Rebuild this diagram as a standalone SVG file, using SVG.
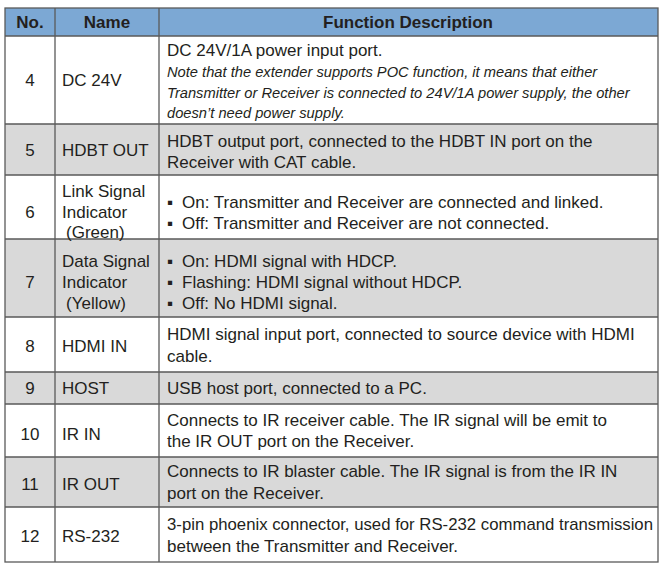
<svg xmlns="http://www.w3.org/2000/svg" width="666" height="576" viewBox="0 0 666 576">
<style>
text{font-family:"Liberation Sans",Arial,sans-serif;fill:#231f20;font-size:17px}
.h{font-weight:bold;text-anchor:middle}
.c{text-anchor:middle}
.i{font-style:italic;font-size:14.7px}
.ln{stroke:#5a5a5a;stroke-width:1.3;fill:none}
.g{fill:#d9d9d9}
</style>
<rect x="0" y="0" width="666" height="576" fill="#ffffff"/>
<g id="backgrounds">
<rect x="5" y="8" width="653" height="28" fill="#7ca8d4"/>
<rect class="g" x="5" y="124" width="653" height="51"/>
<rect class="g" x="5" y="239" width="653" height="78"/>
<rect class="g" x="5" y="372" width="653" height="32"/>
<rect class="g" x="5" y="457" width="653" height="50"/>
</g>
<g id="grid">
<rect class="ln" x="5" y="8" width="653" height="554"/>
<path class="ln" d="M55 8V562M159 8V562M5 36H658M5 124H658M5 175H658M5 239H658M5 317H658M5 372H658M5 404H658M5 457H658M5 507H658"/>
</g>
<g id="header">
<text class="h" x="30" y="28">No.</text>
<text class="h" x="107" y="28">Name</text>
<text class="h" x="408" y="28">Function Description</text>
</g>
<g id="row4">
<text class="c" x="30" y="86">4</text>
<text x="62" y="86">DC 24V</text>
<text x="167" y="56">DC 24V/1A power input port.</text>
<text class="i" x="167" y="77">Note that the extender supports POC function, it means that either</text>
<text class="i" x="167" y="98">Transmitter or Receiver is connected to 24V/1A power supply, the other</text>
<text class="i" x="167" y="118">doesn’t need power supply.</text>
</g>
<g id="row5">
<text class="c" x="30" y="156">5</text>
<text x="62" y="156">HDBT OUT</text>
<text x="167" y="147">HDBT output port, connected to the HDBT IN port on the</text>
<text x="167" y="168">Receiver with CAT cable.</text>
</g>
<g id="row6">
<text class="c" x="30" y="218">6</text>
<text x="62" y="197">Link Signal</text>
<text x="62" y="218">Indicator</text>
<text x="66" y="238">(Green)</text>
<text x="167" y="208"><tspan x="167">▪</tspan><tspan x="182">On: Transmitter and Receiver are connected and linked.</tspan></text>
<text x="167" y="229"><tspan x="167">▪</tspan><tspan x="182">Off: Transmitter and Receiver are not connected.</tspan></text>
</g>
<g id="row7">
<text class="c" x="30" y="288">7</text>
<text x="62" y="267">Data Signal</text>
<text x="62" y="288">Indicator</text>
<text x="66" y="309">(Yellow)</text>
<text x="167" y="267"><tspan x="167">▪</tspan><tspan x="182">On: HDMI signal with HDCP.</tspan></text>
<text x="167" y="288"><tspan x="167">▪</tspan><tspan x="182">Flashing: HDMI signal without HDCP.</tspan></text>
<text x="167" y="309"><tspan x="167">▪</tspan><tspan x="182">Off: No HDMI signal.</tspan></text>
</g>
<g id="row8">
<text class="c" x="30" y="352">8</text>
<text x="62" y="352">HDMI IN</text>
<text x="167" y="340">HDMI signal input port, connected to source device with HDMI</text>
<text x="167" y="362">cable.</text>
</g>
<g id="row9">
<text class="c" x="30" y="394">9</text>
<text x="62" y="394">HOST</text>
<text x="167" y="394">USB host port, connected to a PC.</text>
</g>
<g id="row10">
<text class="c" x="30" y="440">10</text>
<text x="62" y="440">IR IN</text>
<text x="167" y="426">Connects to IR receiver cable. The IR signal will be emit to</text>
<text x="167" y="447">the IR OUT port on the Receiver.</text>
</g>
<g id="row11">
<text class="c" x="30" y="490">11</text>
<text x="62" y="490">IR OUT</text>
<text x="167" y="477">Connects to IR blaster cable. The IR signal is from the IR IN</text>
<text x="167" y="499">port on the Receiver.</text>
</g>
<g id="row12">
<text class="c" x="30" y="542">12</text>
<text x="62" y="542">RS-232</text>
<text x="167" y="530" textLength="486" lengthAdjust="spacingAndGlyphs">3-pin phoenix connector, used for RS-232 command transmission</text>
<text x="167" y="552">between the Transmitter and Receiver.</text>
</g>
</svg>
